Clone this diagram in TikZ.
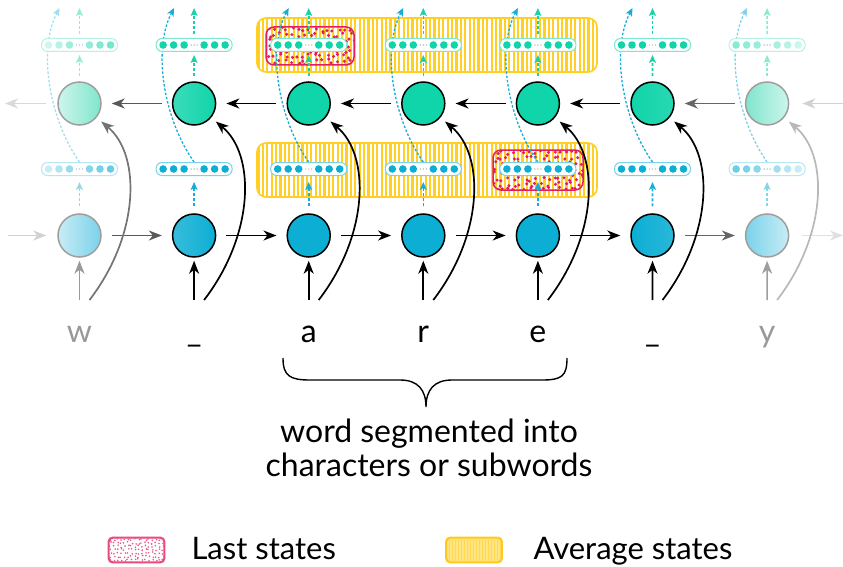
\documentclass[tikz,border=0pt]{standalone}
\usepackage{fontspec}
\setmainfont{Lato}
\usetikzlibrary{arrows.meta}
\definecolor{topG}{RGB}{16,212,170}
\definecolor{botC}{RGB}{12,174,212}
\definecolor{dashG}{RGB}{28,208,168}
\definecolor{dashB}{RGB}{24,172,218}
\definecolor{yel}{RGB}{255,208,35}
\definecolor{redD}{RGB}{226,30,96}
\definecolor{tOneL}{RGB}{205,245,236}
\definecolor{tOneR}{RGB}{128,229,204}
\definecolor{bOneL}{RGB}{200,236,246}
\definecolor{bOneR}{RGB}{122,210,234}
\pgfdeclarelayer{bg}
\pgfdeclarelayer{mid}
\pgfsetlayers{bg,mid,main}
\newcommand\myvecdots[8]{%
  \foreach \o/\c in {-31/#3,-20.5/#4,-10/#5,10/#6,20.5/#7,31/#8}{\fill[\c] (#1+\o,#2) circle (3.8);}%
  \foreach \o in {-3,0,3}{\fill[black!35] (#1+\o,#2) circle (0.7);}%
}
\begin{document}
\begin{tikzpicture}[x=1pt,y=-1pt,
  circ/.style={circle,minimum size=43pt,inner sep=0pt,line width=1.5pt},
  tcirc/.style={circ,draw=black,fill=topG},
  bcirc/.style={circ,draw=black,fill=botC},
  fcirc/.style={circ,draw=black!38},
  vbar/.style={rectangle,rounded corners=6pt,minimum width=76pt,minimum height=13pt,inner sep=0pt,fill=white,line width=1pt},
  arr/.style={line width=1.7pt,-{Stealth[length=13pt,width=10pt,inset=4pt]}},
  hsh/.style={shorten <=10pt,shorten >=10pt},
  darr/.style={line width=1.6pt,dash pattern=on 3pt off 2pt,-{Stealth[length=8pt,width=7pt,inset=2pt]}},
  bdash/.style={line width=1.3pt,dash pattern=on 2.5pt off 1.8pt,-{Stealth[length=8pt,width=7pt,inset=2pt]}},
  lab/.style={anchor=base,font=\fontsize{32}{36}\selectfont},
  legbox/.style={rectangle,rounded corners=4pt,minimum width=55pt,minimum height=24pt,inner sep=0pt,line width=1.3pt},
]
\useasboundingbox (0,0) rectangle (843,567);

% ---------- nodes: circles and vectors ----------
\node[fcirc,left color=tOneL,right color=tOneR] (t1) at (79.5,103.5) {};
\node[fcirc,left color=bOneL,right color=bOneR] (b1) at (79.5,235.5) {};
\node[vbar,draw=topG!30] (vt1) at (79.5,45) {};
\node[vbar,draw=botC!30] (vb1) at (79.5,169) {};
\myvecdots{79.5}{45}{topG!20}{topG!30}{topG!40}{topG!45}{topG!52}{topG!58}
\myvecdots{79.5}{169}{botC!22}{botC!32}{botC!42}{botC!50}{botC!56}{botC!62}

\node[fcirc,left color=tOneR,right color=tOneL] (t7) at (767.1,103.5) {};
\node[fcirc,left color=bOneR,right color=bOneL] (b7) at (767.1,235.5) {};
\node[vbar,draw=topG!30] (vt7) at (767.1,45) {};
\node[vbar,draw=botC!30] (vb7) at (767.1,169) {};
\myvecdots{767.1}{45}{topG!50}{topG!46}{topG!42}{topG!36}{topG!30}{topG!22}
\myvecdots{767.1}{169}{botC!60}{botC!54}{botC!48}{botC!38}{botC!30}{botC!22}

\node[tcirc,left color=topG!82,right color=topG] (t2) at (194.1,103.5) {};
\node[bcirc,left color=botC!82,right color=botC] (b2) at (194.1,235.5) {};
\node[tcirc,left color=topG,right color=topG!90] (t6) at (652.5,103.5) {};
\node[bcirc,left color=botC,right color=botC!88] (b6) at (652.5,235.5) {};
\foreach \i in {3,4,5}{
  \pgfmathsetmacro\cx{79.5+114.6*(\i-1)}
  \node[tcirc] (t\i) at (\cx,103.5) {};
  \node[bcirc] (b\i) at (\cx,235.5) {};
}
\foreach \i in {2,...,6}{
  \pgfmathsetmacro\cx{79.5+114.6*(\i-1)}
  \node[vbar,draw=topG!55] (vt\i) at (\cx,45) {};
  \node[vbar,draw=botC!55] (vb\i) at (\cx,169) {};
  \myvecdots{\cx}{45}{topG}{topG}{topG}{topG}{topG}{topG}
  \myvecdots{\cx}{169}{botC}{botC}{botC}{botC}{botC}{botC}
}

% ---------- coordinates ----------
\foreach \i in {1,...,7}{
  \pgfmathsetmacro\cx{79.5+114.6*(\i-1)}
  \coordinate (gt\i) at (\cx,8);
  \coordinate (bt\i) at (\cx-20,8);
  \coordinate (iv\i) at (\cx,300);
  \coordinate (ic\i) at (\cx+10,300);
}
\coordinate (bin) at (8,235.5);
\coordinate (bout) at (843,235.5);
\coordinate (tin) at (843,103.5);
\coordinate (tout) at (5,103.5);

% ---------- background: average and last states ----------
\begin{pgfonlayer}{bg}
\foreach \yt/\yb in {18/72,143/197}{
  \begin{scope}
    \clip[rounded corners=9pt] (257,\yt) rectangle (597,\yb);
    \foreach \x in {258.5,262.9,...,597}{\draw[yel,line width=2.2pt] (\x,\yt) -- (\x,\yb);}
  \end{scope}
  \draw[yel,line width=1.6pt,rounded corners=9pt] (257,\yt) rectangle (597,\yb);
}
\pgfmathsetseed{7}
\foreach \xa/\ya/\xb/\yb in {266/27/354/65,493/150/583/190}{
  \begin{scope}
    \clip[rounded corners=8pt] (\xa,\ya) rectangle (\xb,\yb);
    \foreach \gx in {0,...,15}{\foreach \gy in {0,...,7}{
      \fill[redD] (\xa+3+5.8*\gx+2.2*rand,\ya+2.5+5.3*\gy+2.2*rand) circle (1.7);}}
  \end{scope}
  \draw[redD,line width=1.5pt,rounded corners=8pt] (\xa,\ya) rectangle (\xb,\yb);
}
\end{pgfonlayer}

% ---------- bypass curves (forward states to output) ----------
\begin{pgfonlayer}{mid}
\foreach \i/\col in {1/dashB!40,2/dashB,3/dashB,4/dashB,5/dashB,6/dashB,7/dashB!55}{
  \pgfmathsetmacro\cx{79.5+114.6*(\i-1)}
  \draw[bdash,\col] (vb\i.north) .. controls (\cx-30,120) and (\cx-42,50) .. (bt\i);
}
\end{pgfonlayer}

% ---------- dashed output arrows ----------
\foreach \i/\g/\b in {1/topG!45/botC!45,2/dashG/dashB,3/dashG/dashB,4/dashG/dashB,5/dashG/dashB,6/dashG/dashB,7/topG!50/botC!50}{
  \draw[darr,\g,shorten <=5pt,shorten >=3pt] (t\i) -- (vt\i);
  \draw[darr,\g,shorten <=4pt] (vt\i) -- (gt\i);
  \draw[darr,\b,shorten <=7pt,shorten >=6pt] (b\i) -- (vb\i);
}

% ---------- recurrent connections ----------
\draw[arr,black!18,shorten >=11pt] (bin) -- (b1);
\draw[arr,black!65,hsh] (b1) -- (b2);
\draw[arr,hsh] (b2) -- (b3);
\draw[arr,hsh] (b3) -- (b4);
\draw[arr,hsh] (b4) -- (b5);
\draw[arr,hsh] (b5) -- (b6);
\draw[arr,black!60,hsh] (b6) -- (b7);
\draw[arr,black!12,shorten <=13pt] (b7) -- (bout);

\draw[arr,black!18,shorten >=13pt] (tin) -- (t7);
\draw[arr,black!60,hsh] (t7) -- (t6);
\draw[arr,hsh] (t6) -- (t5);
\draw[arr,hsh] (t5) -- (t4);
\draw[arr,hsh] (t4) -- (t3);
\draw[arr,hsh] (t3) -- (t2);
\draw[arr,black!65,hsh] (t2) -- (t1);
\draw[arr,black!15,shorten <=11pt] (t1) -- (tout);

% ---------- inputs ----------
\foreach \i/\cv/\cc in {1/black!40/black!55,2/black/black,3/black/black,4/black/black,5/black/black,6/black/black,7/black!38/black!28}{
  \pgfmathsetmacro\cx{79.5+114.6*(\i-1)}
  \draw[arr,\cv,shorten >=3pt] (iv\i) -- (b\i);
  \draw[arr,\cc,shorten >=6pt] (ic\i) .. controls (\cx+60,235) and (\cx+62,155) .. (t\i);
}

% ---------- input symbols ----------
\node[lab,black!40] (l1) at (79.5,342) {w};
\node[lab] (l2) at (194.1,342) {\_};
\node[lab] (l3) at (308.7,342) {a};
\node[lab] (l4) at (423.3,342) {r};
\node[lab] (l5) at (537.9,342) {e};
\node[lab] (l6) at (652.5,342) {\_};
\node[lab,black!40] (l7) at (767.1,342) {y};

% ---------- brace and caption ----------
\draw[line width=1.4pt] (283,358) .. controls (283,376) and (290,380) .. (310,380) -- (400,380)
  .. controls (418,380) and (426,390) .. (426,407)
  .. controls (426,390) and (434,380) .. (452,380) -- (542,380)
  .. controls (562,380) and (567,376) .. (567,358);
\node[lab] (cap1) at (429,442) {word segmented into};
\node[lab] (cap2) at (429,476) {characters or subwords};

% ---------- legend ----------
\node[legbox,draw=redD!80,fill=white] (lg1) at (136.5,550) {};
\begin{scope}
  \clip[rounded corners=4pt] (109,538) rectangle (164,562);
  \pgfmathsetseed{3}
  \foreach \gx in {0,...,15}{\foreach \gy in {0,...,6}{
    \fill[redD!75] (110.5+3.5*\gx+1.2*rand,539.5+3.4*\gy+1.2*rand) circle (0.9);}}
\end{scope}
\draw[redD!80,line width=1.3pt,rounded corners=4pt] (lg1.north west) rectangle (lg1.south east);
\node[lab,anchor=base west,font=\fontsize{31}{34}\selectfont,text depth=0pt] (lt1) at (188,559) {Last states};

\node[legbox,draw=yel!90!orange,fill=yel!55] (lg2) at (474,550) {};
\begin{scope}
  \clip[rounded corners=4pt] (447,538) rectangle (501,562);
  \foreach \x in {449,452,...,500}{\draw[yel!80,line width=1pt] (\x,538) -- (\x,562);}
\end{scope}
\draw[yel!90!orange,line width=1.3pt,rounded corners=4pt] (lg2.north west) rectangle (lg2.south east);
\node[lab,anchor=base west,font=\fontsize{31}{34}\selectfont,text depth=0pt] (lt2) at (530,559) {Average states};
\end{tikzpicture}
\end{document}
